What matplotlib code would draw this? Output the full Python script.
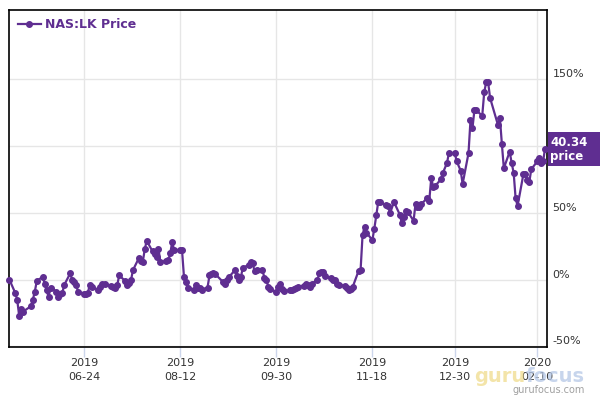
import matplotlib
matplotlib.use("Agg")
import matplotlib.pyplot as plt
import pandas as pd
from matplotlib.patches import Rectangle
from matplotlib.transforms import blended_transform_factory

# NASDAQ holidays inside the range
HOLIDAYS = ["2019-05-27", "2019-07-04", "2019-09-02", "2019-11-28",
            "2019-12-25", "2020-01-01", "2020-01-20"]

# % change vs. first close, one value per trading day
may = [0, -10, -15, -27, -22, -24, -20, -15, -9, -1]
jun = [2, -3, -8, -13, -6, -9, -13, -11, -10, -4, 4.5, 0, -2, -4, -9,
       -10.5, -11, -10, -4, -5.5]
jul = [-7.5, -5.5, -3.7, -3, -5, -5.5, -6, -4, 3, -1, -4, -2.5, -0.5, 7,
       16, 14, 13, 22.5, 29, 21, 19, 17]
aug = [23, 13, 14, 14.5, 19.5, 28, 22, 22, 22, 2, -2, -6, -7.5, -4, -6,
       -6, -7.5, -6, 3, 4, 4.5, 4]
sep = [-2, -3, 0, 2, 7, 2.7, 0, 2, 8.7, 11, 13, 12, 6.2, 7, 7, 1.2, 0,
       -5.5, -6.8, -9.7]
oct_ = [-5.5, -3.7, -6.8, -8.7, -8, -8, -7, -6, -5.5, -4.5, -3.7, -4,
        -5.5, -3, -0.5, 5, 5.7, 5.7, 2.7, 1, -0.5, -0.5, -3]
nov = [-4, -4.7, -6, -8, -7.2, -5.5, 6.5, 7, 33, 39.5, 35, 29.5, 38, 48,
       58, 58, 55.5, 55, 49.5, 58]
dec = [48.5, 42, 47, 51.5, 50.7, 44, 56.5, 54, 54.5, 56.5, 61, 59, 75.7,
       69.5, 70, 75, 80, 87, 94.5, 94.5, 88.3]
jan = [81.5, 71.5, 94.5, 119, 113, 126.5, 126.5, 122.5, 140, 147.5, 147.5,
       135.8, 115.7, 120.8, 101.5, 83.3, 95.7, 87, 80, 60.8, 55]
feb = [79, 79, 74.5, 73.2, 82.5, 88.3, 90.8, 87, 88.3, 97.9]

LAST_PRICE = "40.34"
SERIES_NAME = "NAS:LK Price"

TICK_DATES = ["2019-06-24", "2019-08-12", "2019-09-30", "2019-11-18",
              "2019-12-30", "2020-02-10"]
TICK_LABELS = ["2019\n06-24", "2019\n08-12", "2019\n09-30", "2019\n11-18",
               "2019\n12-30", "2020\n02-10"]
PCT_TICKS = [-50, 0, 50, 100, 150]
# the 100% label sits under the price flag, so it is not shown
PCT_LABELS = ["-50%", "0%", "50%", "", "150%"]

PURPLE = "#5f2e91"
TEXT = "#333333"


def main() -> None:
    pct = may + jun + jul + aug + sep + oct_ + nov + dec + jan + feb
    days = pd.bdate_range("2019-05-17", "2020-02-14", freq="C",
                          holidays=HOLIDAYS)
    assert len(days) == len(pct), (len(days), len(pct))

    fig = plt.figure(figsize=(6, 4), dpi=100)
    fig.patch.set_facecolor("white")
    ax = fig.add_axes([9 / 600, 53 / 400, 538 / 600, 337.5 / 400])

    ax.plot(days, pct, color=PURPLE, lw=1.6, marker="o", ms=4.0,
            label=SERIES_NAME, clip_on=False, zorder=3)

    ax.set_xlim(pd.Timestamp("2019-05-16 20:00"), pd.Timestamp("2020-02-15"))
    ax.set_ylim(-50.5, 202)

    ax.grid(color="#e6e6e6", lw=1)
    ax.set_axisbelow(True)
    for sp in ax.spines.values():
        sp.set_color("black")
        sp.set_linewidth(1.2)

    ax.set_xticks(pd.to_datetime(TICK_DATES))
    ax.set_xticklabels(TICK_LABELS, linespacing=1.45)
    ax.tick_params(axis="x", length=7, color="#ccd6eb", width=1, pad=1,
                   labelsize=8, labelcolor=TEXT)

    ax.yaxis.tick_right()
    ax.set_yticks(PCT_TICKS)
    ax.set_yticklabels(PCT_LABELS, va="bottom")
    ax.tick_params(axis="y", length=0, pad=4, labelsize=8, labelcolor=TEXT)

    leg = ax.legend(loc="upper left", bbox_to_anchor=(0.0, 1.0), frameon=False,
                    handlelength=1.85, handletextpad=0.3, borderaxespad=0.3,
                    prop={"weight": "bold", "size": 9})
    for t in leg.get_texts():
        t.set_color(PURPLE)

    # last price flag on the right
    last = pct[-1]
    fx_dy = blended_transform_factory(fig.transFigure, ax.transData)
    box = Rectangle((548 / 600, last - 0.5 - 12.75), 52 / 600, 25.5,
                    transform=fx_dy, facecolor=PURPLE, edgecolor="none",
                    clip_on=False, zorder=5)
    fig.add_artist(box)
    flag = fig.text(550 / 600, 0, f"{LAST_PRICE}\nprice", transform=fx_dy,
                    ha="left", va="center", color="white", fontsize=8.5,
                    fontweight="bold", linespacing=1.15, zorder=6)
    flag.set_y(last - 0.5)

    # watermark
    fig.text(0.876, 0.035, "guru", ha="right", va="bottom", fontsize=14,
             fontweight="bold", color="#f0dc8c", alpha=0.75)
    fig.text(0.876, 0.035, "focus", ha="left", va="bottom", fontsize=14,
             fontweight="bold", color="#b5c7e6", alpha=0.75)
    fig.text(0.915, 0.012, "gurufocus.com", ha="center", va="bottom",
             fontsize=7, color="#a0a0a0")

    fig.savefig("out.png", dpi=100, facecolor="white")
    plt.close(fig)


if __name__ == "__main__":
    main()
